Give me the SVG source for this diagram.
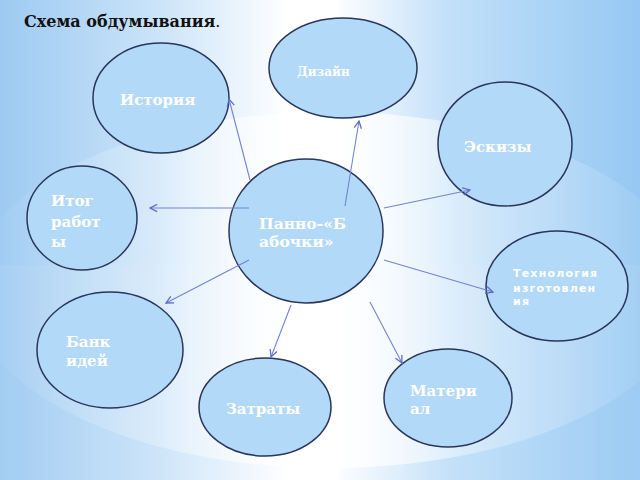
<svg xmlns="http://www.w3.org/2000/svg" width="640" height="480" viewBox="0 0 640 480">
<defs>
<linearGradient id="bg" x1="0" y1="0" x2="1" y2="0">
<stop offset="0" stop-color="#9dcaf2"/>
<stop offset="0.25" stop-color="#cbe4f9"/>
<stop offset="0.45" stop-color="#ffffff"/>
<stop offset="0.52" stop-color="#ffffff"/>
<stop offset="0.7" stop-color="#c2e0f9"/>
<stop offset="1" stop-color="#96c8f3"/>
</linearGradient>
<linearGradient id="sw" x1="0" y1="0" x2="1" y2="0">
<stop offset="0" stop-color="#ffffff" stop-opacity="0"/>
<stop offset="0.25" stop-color="#ffffff" stop-opacity="0.25"/>
<stop offset="0.5" stop-color="#ffffff" stop-opacity="0.9"/>
<stop offset="0.72" stop-color="#ffffff" stop-opacity="0.3"/>
<stop offset="1" stop-color="#ffffff" stop-opacity="0"/>
</linearGradient>
<marker id="ah" viewBox="0 0 10 10" refX="9" refY="5" markerWidth="9" markerHeight="9" markerUnits="userSpaceOnUse" orient="auto">
<path d="M1,1 L9,5 L1,9" fill="none" stroke="#5a6cc4" stroke-width="1.4"/>
</marker>
</defs>
<style>
.node ellipse{fill:#b3d9f8;stroke:#29355a;stroke-width:1.5}
.lbl{font-family:"DejaVu Serif","Liberation Serif",serif;font-weight:bold;fill:#ffffff;font-size:15px}
.lbls{font-family:"DejaVu Sans","Liberation Sans",sans-serif;font-weight:bold;fill:#ffffff;font-size:11px;letter-spacing:1.2px}
#connectors line{stroke:#7383d2;stroke-width:1.1;marker-end:url(#ah)}
</style>
<rect x="0" y="0" width="640" height="480" fill="url(#bg)"/>
<rect x="0" y="265" width="640" height="215" fill="#ffffff" opacity="0.06"/>
<ellipse cx="330" cy="290" rx="360" ry="178" fill="url(#sw)"/>
<text x="24" y="27" font-family="DejaVu Serif, Liberation Serif, serif" font-size="16" font-weight="bold" fill="#111111">Схема обдумывания<tspan font-weight="normal">.</tspan></text>

<g id="node-istoriya" class="node">
<ellipse cx="161" cy="98" rx="68" ry="55"/>
<text class="lbl" x="120" y="105">История</text>
</g>
<g id="node-dizain" class="node">
<ellipse cx="343" cy="68" rx="74" ry="50"/>
<text class="lbl" x="297" y="76" style="font-size:12px">Дизайн</text>
</g>
<g id="node-eskizy" class="node">
<ellipse cx="505" cy="144" rx="67" ry="62"/>
<text class="lbl" x="464" y="152">Эскизы</text>
</g>
<g id="node-itog" class="node">
<ellipse cx="82" cy="218" rx="55" ry="52"/>
<text class="lbl" x="51" y="206">Итог</text>
<text class="lbl" x="51" y="227">работ</text>
<text class="lbl" x="51" y="247">ы</text>
</g>
<g id="node-center" class="node">
<ellipse cx="306" cy="231" rx="77" ry="72"/>
<text class="lbl" x="259" y="229" style="font-size:15.5px">Панно-«Б</text>
<text class="lbl" x="259" y="247" style="font-size:15.5px">абочки»</text>
</g>
<g id="node-tehnologiya" class="node">
<ellipse cx="557" cy="286" rx="71" ry="55"/>
<text class="lbls" x="513" y="277">Технология</text>
<text class="lbls" x="513" y="292">изготовлен</text>
<text class="lbls" x="513" y="305">ия</text>
</g>
<g id="node-bank" class="node">
<ellipse cx="110" cy="350" rx="73" ry="58"/>
<text class="lbl" x="66" y="347">Банк</text>
<text class="lbl" x="66" y="366">идей</text>
</g>
<g id="node-zatraty" class="node">
<ellipse cx="265" cy="407" rx="66" ry="49"/>
<text class="lbl" x="226" y="414">Затраты</text>
</g>
<g id="node-material" class="node">
<ellipse cx="448" cy="398" rx="64" ry="49"/>
<text class="lbl" x="410" y="396">Матери</text>
<text class="lbl" x="410" y="414">ал</text>
</g>

<g id="connectors">
<line x1="250" y1="180" x2="229" y2="99"/>
<line x1="249" y1="208" x2="150" y2="208"/>
<line x1="345" y1="206" x2="359" y2="121"/>
<line x1="384" y1="208" x2="470" y2="190"/>
<line x1="384" y1="260" x2="493" y2="292"/>
<line x1="370" y1="302" x2="402" y2="363"/>
<line x1="291" y1="305" x2="271" y2="357"/>
<line x1="249" y1="260" x2="166" y2="303"/>
</g>
</svg>
